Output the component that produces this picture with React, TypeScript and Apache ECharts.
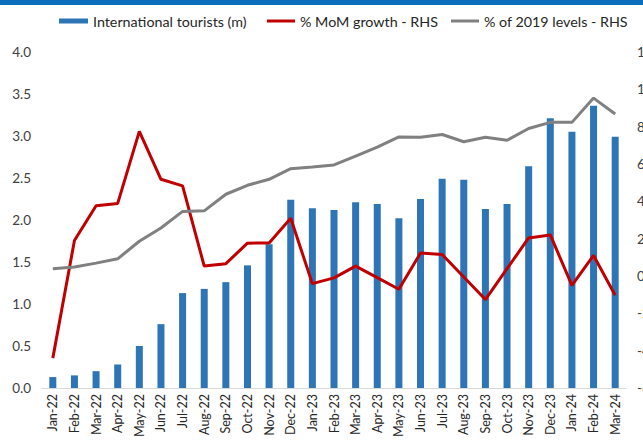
import React, { useEffect, useRef } from "react";
import * as echarts from "echarts";

const categories = [
  "Jan-22", "Feb-22", "Mar-22", "Apr-22", "May-22", "Jun-22", "Jul-22", "Aug-22", "Sep-22",
  "Oct-22", "Nov-22", "Dec-22", "Jan-23", "Feb-23", "Mar-23", "Apr-23", "May-23", "Jun-23",
  "Jul-23", "Aug-23", "Sep-23", "Oct-23", "Nov-23", "Dec-23", "Jan-24", "Feb-24", "Mar-24",
];

const tourists = [
  0.13, 0.15, 0.2, 0.28, 0.5, 0.76, 1.13, 1.18, 1.26, 1.46, 1.71, 2.24, 2.14, 2.12,
  2.21, 2.19, 2.02, 2.25, 2.49, 2.48, 2.13, 2.19, 2.64, 3.21, 3.05, 3.36, 2.99,
];

const momGrowth = [
  -44, 19, 37.6, 38.9, 77.5, 51.8, 48.3, 5.3, 6.6, 17.6, 17.7, 30.9, -4.1, -1,
  5.3, -0.9, -7.1, 12.3, 11.5, -0.5, -12.6, 3.9, 20.4, 22, -5, 11, -10.3,
];

const pctOf2019 = [
  3.9, 4.8, 6.9, 9.2, 18.6, 25.7, 34.6, 34.9, 43.8, 48.6, 51.8, 57.5, 58.4, 59.5,
  64.2, 69, 74.5, 74.3, 75.8, 71.9, 74.3, 72.7, 79, 82.3, 82.3, 95.3, 86.8,
];

const leftTicks = { min: 0, max: 4, interval: 0.5 };
const rightTicks = { min: -60, max: 120, interval: 20 };

const FONT = "Lato, 'Open Sans', sans-serif";

const legendText = { fontSize: 14.3, color: "#262626", fontFamily: FONT };

export default function App() {
  const ref = useRef<HTMLDivElement>(null);
  useEffect(() => {
    if (!ref.current) return;
    const chart = echarts.init(ref.current, undefined, { renderer: "svg" });
    chart.setOption({
      animation: false,
      backgroundColor: "#ffffff",
      textStyle: { fontFamily: FONT },
      graphic: [
        {
          type: "rect",
          shape: { x: 0, y: 0, width: 643, height: 5 },
          style: { fill: "#0a6ebd" },
          silent: true,
        },
      ],
      legend: [
        {
          left: 54,
          top: 9,
          itemWidth: 29,
          itemHeight: 5,
          textStyle: legendText,
          data: [{ name: "International tourists (m)", icon: "rect" }],
        },
        {
          left: 262,
          top: 9,
          itemWidth: 28,
          itemHeight: 3,
          textStyle: legendText,
          data: [{ name: "% MoM growth - RHS", icon: "rect" }],
        },
        {
          left: 446,
          top: 9,
          itemWidth: 28,
          itemHeight: 3,
          textStyle: legendText,
          data: [{ name: "% of 2019 levels - RHS", icon: "rect" }],
        },
      ],
      grid: { left: 42, right: 17, top: 52, bottom: 56, outerBoundsMode: "none" },
      xAxis: {
        type: "category",
        data: categories,
        axisTick: { show: false },
        axisLine: { lineStyle: { color: "#d9d9d9" } },
        axisLabel: {
          rotate: 90,
          interval: 0,
          fontSize: 12.5,
          color: "#262626",
          fontFamily: FONT,
          margin: 6,
        },
      },
      yAxis: [
        {
          type: "value",
          min: leftTicks.min,
          max: leftTicks.max,
          interval: leftTicks.interval,
          splitLine: { show: false },
          axisLine: { show: false },
          axisTick: { show: false },
          axisLabel: {
            formatter: (v: number) => v.toFixed(1),
            fontSize: 13.5,
            color: "#404040",
            fontFamily: FONT,
            margin: 11,
          },
        },
        {
          type: "value",
          min: rightTicks.min,
          max: rightTicks.max,
          interval: rightTicks.interval,
          splitLine: { show: false },
          axisLine: { show: false },
          axisTick: { show: false },
          axisLabel: {
            fontSize: 13.5,
            color: "#404040",
            fontFamily: FONT,
            margin: 11,
          },
        },
      ],
      series: [
        {
          name: "International tourists (m)",
          type: "bar",
          data: tourists,
          barWidth: 7,
          itemStyle: { color: "#2e75b6" },
        },
        {
          name: "% MoM growth - RHS",
          type: "line",
          yAxisIndex: 1,
          data: momGrowth,
          symbol: "none",
          lineStyle: { color: "#c00000", width: 3 },
          itemStyle: { color: "#c00000" },
        },
        {
          name: "% of 2019 levels - RHS",
          type: "line",
          yAxisIndex: 1,
          data: pctOf2019,
          symbol: "none",
          lineStyle: { color: "#808080", width: 3 },
          itemStyle: { color: "#808080" },
        },
      ],
    });
    return () => chart.dispose();
  }, []);
  return (
    <div
      ref={ref}
      style={{ position: "fixed", left: 0, top: 0, width: 643, height: 444 }}
    />
  );
}
